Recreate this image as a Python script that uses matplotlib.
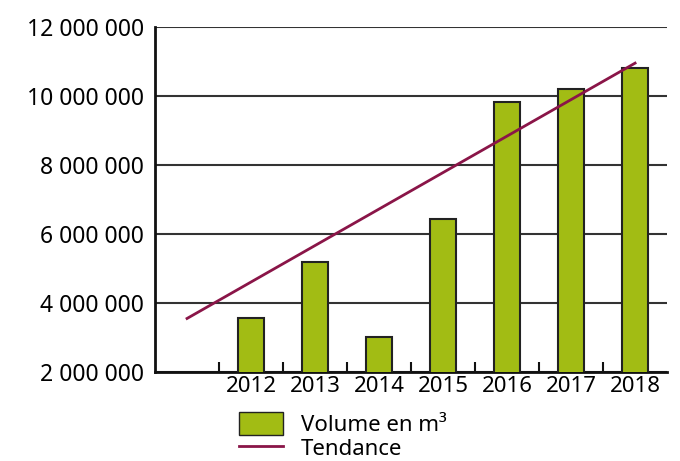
import matplotlib
matplotlib.use("Agg")
import matplotlib.pyplot as plt
from matplotlib.patches import Patch
from matplotlib.lines import Line2D

categories = ["", "2012", "2013", "2014", "2015", "2016", "2017", "2018"]
volumes = [None, 3550000, 5190000, 3000000, 6430000, 9820000, 10190000, 10790000]
trend_start = 3550000
trend_end = 10940000
yticks = [2000000, 4000000, 6000000, 8000000, 10000000, 12000000]

plt.rcParams['font.family'] = ['Noto Sans', 'DejaVu Sans']

fig = plt.figure(figsize=(6.8, 4.61), dpi=100)
ax = fig.add_axes([0.228, 0.193, 0.753, 0.7495])

bar_color = "#a2bc14"
trend_color = "#8a1548"

xs = list(range(len(categories)))
bx = [x for x, v in zip(xs, volumes) if v is not None]
bv = [v for v in volumes if v is not None]
ax.bar(bx, bv, width=0.4, color=bar_color, edgecolor="#222222", linewidth=1.5, zorder=3, bottom=0)
ax.plot([xs[0], xs[-1]], [trend_start, trend_end], color=trend_color, linewidth=2, zorder=4)

ax.set_xlim(-0.5, len(categories) - 0.5)
ax.set_ylim(2000000, 12000000)
ax.set_yticks(yticks)
ax.set_yticklabels([f"{v:,}".replace(",", " ") for v in yticks], fontsize=16.5)
ax.yaxis.grid(True, color="#333333", linewidth=1.5, zorder=0)
ax.set_axisbelow(True)
ax.tick_params(axis='y', length=0, pad=8)

ax.set_xticks(xs)
ax.set_xticklabels(categories, fontsize=16)
ax.tick_params(axis='x', length=0, pad=3)
ax.set_xticks([x + 0.5 for x in xs[:-1]], minor=True)
ax.tick_params(axis='x', which='minor', direction='in', length=7, width=1.5, color="#111111")

for s in ["top", "right"]:
    ax.spines[s].set_visible(False)
for s in ["left", "bottom"]:
    ax.spines[s].set_linewidth(2)
    ax.spines[s].set_color("#111111")

handles = [Patch(facecolor=bar_color, edgecolor="#222222", linewidth=1),
           Line2D([0], [0], color=trend_color, linewidth=2)]
fig.legend(handles, ["Volume en m³", "Tendance"], loc="upper left",
           bbox_to_anchor=(0.335, 0.13), frameon=False, fontsize=16,
           handlelength=2.0, handleheight=1.2, labelspacing=0.0,
           handletextpad=0.8, borderpad=0)

fig.savefig("out.png", dpi=100)
